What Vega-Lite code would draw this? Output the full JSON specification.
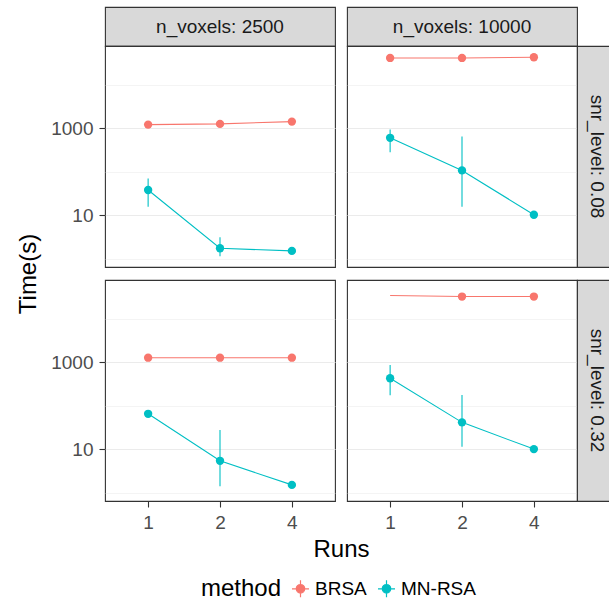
{
  "$schema": "https://vega.github.io/schema/vega-lite/v6.json",
  "padding": {"left": 16, "top": 6, "right": 0, "bottom": 0},
  "autosize": {"type": "pad"},
  "background": "white",
  "datasets": {
    "runs": [
      {"n_voxels": 2500, "snr_level": 0.08, "runs": 1, "method": "BRSA", "time": 1215, "lo": null, "hi": null},
      {"n_voxels": 2500, "snr_level": 0.08, "runs": 2, "method": "BRSA", "time": 1260, "lo": null, "hi": null},
      {"n_voxels": 2500, "snr_level": 0.08, "runs": 4, "method": "BRSA", "time": 1425, "lo": null, "hi": null},
      {"n_voxels": 2500, "snr_level": 0.08, "runs": 1, "method": "MN-RSA", "time": 37.8, "lo": 15.5, "hi": 70},
      {"n_voxels": 2500, "snr_level": 0.08, "runs": 2, "method": "MN-RSA", "time": 1.72, "lo": 1.13, "hi": 3.08},
      {"n_voxels": 2500, "snr_level": 0.08, "runs": 4, "method": "MN-RSA", "time": 1.5, "lo": null, "hi": null},
      {"n_voxels": 10000, "snr_level": 0.08, "runs": 1, "method": "BRSA", "time": 41700, "lo": null, "hi": null},
      {"n_voxels": 10000, "snr_level": 0.08, "runs": 2, "method": "BRSA", "time": 41700, "lo": null, "hi": null},
      {"n_voxels": 10000, "snr_level": 0.08, "runs": 4, "method": "BRSA", "time": 43100, "lo": null, "hi": null},
      {"n_voxels": 10000, "snr_level": 0.08, "runs": 1, "method": "MN-RSA", "time": 603, "lo": 282, "hi": 933},
      {"n_voxels": 10000, "snr_level": 0.08, "runs": 2, "method": "MN-RSA", "time": 107, "lo": 15.5, "hi": 645},
      {"n_voxels": 10000, "snr_level": 0.08, "runs": 4, "method": "MN-RSA", "time": 10.2, "lo": null, "hi": null},
      {"n_voxels": 2500, "snr_level": 0.32, "runs": 1, "method": "BRSA", "time": 1275, "lo": null, "hi": null},
      {"n_voxels": 2500, "snr_level": 0.32, "runs": 2, "method": "BRSA", "time": 1275, "lo": null, "hi": null},
      {"n_voxels": 2500, "snr_level": 0.32, "runs": 4, "method": "BRSA", "time": 1275, "lo": null, "hi": null},
      {"n_voxels": 2500, "snr_level": 0.32, "runs": 1, "method": "MN-RSA", "time": 65, "lo": null, "hi": null},
      {"n_voxels": 2500, "snr_level": 0.32, "runs": 2, "method": "MN-RSA", "time": 5.37, "lo": 1.39, "hi": 27.4},
      {"n_voxels": 2500, "snr_level": 0.32, "runs": 4, "method": "MN-RSA", "time": 1.5, "lo": null, "hi": null},
      {"n_voxels": 10000, "snr_level": 0.32, "runs": 1, "method": "BRSA", "time": 34400, "lo": null, "hi": null},
      {"n_voxels": 10000, "snr_level": 0.32, "runs": 2, "method": "BRSA", "time": 32600, "lo": null, "hi": null},
      {"n_voxels": 10000, "snr_level": 0.32, "runs": 4, "method": "BRSA", "time": 32600, "lo": null, "hi": null},
      {"n_voxels": 10000, "snr_level": 0.32, "runs": 1, "method": "MN-RSA", "time": 428, "lo": 173, "hi": 866},
      {"n_voxels": 10000, "snr_level": 0.32, "runs": 2, "method": "MN-RSA", "time": 41.3, "lo": 11.3, "hi": 176},
      {"n_voxels": 10000, "snr_level": 0.32, "runs": 4, "method": "MN-RSA", "time": 10, "lo": null, "hi": null}
    ]
  },
  "columns": 4,
  "spacing": 0,
  "bounds": "flush",
  "align": "each",
  "concat": [
    {"width": 230, "height": 39, "data": {"values": [{"label": "n_voxels: 2500"}]}, "mark": {"type": "text", "fontSize": 19, "color": "#1A1A1A", "align": "center", "baseline": "middle"}, "encoding": {"text": {"field": "label", "type": "nominal"}}, "view": {"fill": "#D9D9D9", "stroke": "#333333", "strokeWidth": 1.1}},
    {"width": 12, "height": 13, "data": {"values": [{"b": 0}]}, "mark": {"type": "text", "text": ""}, "encoding": {}, "view": {"stroke": null, "fill": null}},
    {"width": 230, "height": 39, "data": {"values": [{"label": "n_voxels: 10000"}]}, "mark": {"type": "text", "fontSize": 19, "color": "#1A1A1A", "align": "center", "baseline": "middle"}, "encoding": {"text": {"field": "label", "type": "nominal"}}, "view": {"fill": "#D9D9D9", "stroke": "#333333", "strokeWidth": 1.1}},
    {"width": 12, "height": 13, "data": {"values": [{"b": 0}]}, "mark": {"type": "text", "text": ""}, "encoding": {}, "view": {"stroke": null, "fill": null}},

    {
      "width": 230, "height": 221,
      "data": {"name": "runs"},
      "transform": [{"filter": "datum.n_voxels == 2500 && datum.snr_level == 0.08"}],
      "encoding": {
        "x": {"field": "runs", "type": "ordinal", "scale": {"type": "point", "padding": 0.6, "domain": [1, 2, 4]}, "axis": {"labels": false, "ticks": false, "title": null, "gridWidth": 1.1}},
        "y": {"field": "time", "type": "quantitative", "scale": {"type": "log", "domain": [0.638, 78500], "nice": false},
          "axis": {"values": [1, 10, 100, 1000, 10000], "title": "Time(s)", "titleY": 227.5, "titlePadding": 10,
            "labelExpr": "datum.value == 10 || datum.value == 1000 ? format(datum.value, 'd') : ''",
            "tickOpacity": {"condition": {"test": "datum.value == 10 || datum.value == 1000", "value": 1}, "value": 0},
            "gridWidth": {"condition": {"test": "datum.value == 10 || datum.value == 1000", "value": 1.1}, "value": 0.55}}},
        "color": {"field": "method", "type": "nominal", "scale": {"domain": ["BRSA", "MN-RSA"], "range": ["#F8766D", "#00BFC4"]}, "title": "method"}
      },
      "layer": [
        {"mark": {"type": "rule", "strokeWidth": 1.1}, "encoding": {"y": {"field": "lo", "type": "quantitative"}, "y2": {"field": "hi"}}},
        {"mark": {"type": "line", "strokeWidth": 1.1}, "encoding": {}},
        {"mark": {"type": "point", "filled": true, "size": 70, "opacity": 1}, "encoding": {}}
      ]
    },
    {"width": 12, "height": 13, "data": {"values": [{"b": 0}]}, "mark": {"type": "text", "text": ""}, "encoding": {}, "view": {"stroke": null, "fill": null}},
    {
      "width": 230, "height": 221,
      "data": {"name": "runs"},
      "transform": [{"filter": "datum.n_voxels == 10000 && datum.snr_level == 0.08"}],
      "encoding": {
        "x": {"field": "runs", "type": "ordinal", "scale": {"type": "point", "padding": 0.6, "domain": [1, 2, 4]}, "axis": {"labels": false, "ticks": false, "title": null, "gridWidth": 1.1}},
        "y": {"field": "time", "type": "quantitative", "scale": {"type": "log", "domain": [0.638, 78500], "nice": false},
          "axis": {"values": [1, 10, 100, 1000, 10000], "title": null, "labels": false, "ticks": false,
            "gridWidth": {"condition": {"test": "datum.value == 10 || datum.value == 1000", "value": 1.1}, "value": 0.55}}},
        "color": {"field": "method", "type": "nominal", "scale": {"domain": ["BRSA", "MN-RSA"], "range": ["#F8766D", "#00BFC4"]}, "title": "method"}
      },
      "layer": [
        {"mark": {"type": "rule", "strokeWidth": 1.1}, "encoding": {"y": {"field": "lo", "type": "quantitative"}, "y2": {"field": "hi"}}},
        {"mark": {"type": "line", "strokeWidth": 1.1}, "encoding": {}},
        {"mark": {"type": "point", "filled": true, "size": 70, "opacity": 1}, "encoding": {}}
      ]
    },
    {"width": 39, "height": 221, "data": {"values": [{"label": "snr_level: 0.08"}]}, "mark": {"type": "text", "fontSize": 19, "color": "#1A1A1A", "align": "center", "baseline": "middle", "angle": 90}, "encoding": {"text": {"field": "label", "type": "nominal"}}, "view": {"fill": "#D9D9D9", "stroke": "#333333", "strokeWidth": 1.1}},

    {"width": 12, "height": 13, "data": {"values": [{"b": 0}]}, "mark": {"type": "text", "text": ""}, "encoding": {}, "view": {"stroke": null, "fill": null}},
    {"width": 12, "height": 13, "data": {"values": [{"b": 0}]}, "mark": {"type": "text", "text": ""}, "encoding": {}, "view": {"stroke": null, "fill": null}},
    {"width": 12, "height": 13, "data": {"values": [{"b": 0}]}, "mark": {"type": "text", "text": ""}, "encoding": {}, "view": {"stroke": null, "fill": null}},
    {"width": 12, "height": 13, "data": {"values": [{"b": 0}]}, "mark": {"type": "text", "text": ""}, "encoding": {}, "view": {"stroke": null, "fill": null}},

    {
      "width": 230, "height": 221,
      "data": {"name": "runs"},
      "transform": [{"filter": "datum.n_voxels == 2500 && datum.snr_level == 0.32"}],
      "encoding": {
        "x": {"field": "runs", "type": "ordinal", "scale": {"type": "point", "padding": 0.6, "domain": [1, 2, 4]}, "axis": {"labelAngle": 0, "title": "Runs", "titleX": 236, "titlePadding": 5, "gridWidth": 1.1}},
        "y": {"field": "time", "type": "quantitative", "scale": {"type": "log", "domain": [0.638, 78500], "nice": false},
          "axis": {"values": [1, 10, 100, 1000, 10000], "title": null,
            "labelExpr": "datum.value == 10 || datum.value == 1000 ? format(datum.value, 'd') : ''",
            "tickOpacity": {"condition": {"test": "datum.value == 10 || datum.value == 1000", "value": 1}, "value": 0},
            "gridWidth": {"condition": {"test": "datum.value == 10 || datum.value == 1000", "value": 1.1}, "value": 0.55}}},
        "color": {"field": "method", "type": "nominal", "scale": {"domain": ["BRSA", "MN-RSA"], "range": ["#F8766D", "#00BFC4"]}, "title": "method"}
      },
      "layer": [
        {"mark": {"type": "rule", "strokeWidth": 1.1}, "encoding": {"y": {"field": "lo", "type": "quantitative"}, "y2": {"field": "hi"}}},
        {"mark": {"type": "line", "strokeWidth": 1.1}, "encoding": {}},
        {"mark": {"type": "point", "filled": true, "size": 70, "opacity": 1}, "encoding": {}}
      ]
    },
    {"width": 12, "height": 13, "data": {"values": [{"b": 0}]}, "mark": {"type": "text", "text": ""}, "encoding": {}, "view": {"stroke": null, "fill": null}},
    {
      "width": 230, "height": 221,
      "data": {"name": "runs"},
      "transform": [{"filter": "datum.n_voxels == 10000 && datum.snr_level == 0.32"}],
      "encoding": {
        "x": {"field": "runs", "type": "ordinal", "scale": {"type": "point", "padding": 0.6, "domain": [1, 2, 4]}, "axis": {"labelAngle": 0, "title": null, "gridWidth": 1.1}},
        "y": {"field": "time", "type": "quantitative", "scale": {"type": "log", "domain": [0.638, 78500], "nice": false},
          "axis": {"values": [1, 10, 100, 1000, 10000], "title": null, "labels": false, "ticks": false,
            "gridWidth": {"condition": {"test": "datum.value == 10 || datum.value == 1000", "value": 1.1}, "value": 0.55}}},
        "color": {"field": "method", "type": "nominal", "scale": {"domain": ["BRSA", "MN-RSA"], "range": ["#F8766D", "#00BFC4"]}, "title": "method"}
      },
      "layer": [
        {"mark": {"type": "rule", "strokeWidth": 1.1}, "encoding": {"y": {"field": "lo", "type": "quantitative"}, "y2": {"field": "hi"}}},
        {"mark": {"type": "line", "strokeWidth": 1.1}, "encoding": {}},
        {"transform": [{"filter": "!(datum.method == 'BRSA' && datum.runs == 1)"}], "mark": {"type": "point", "filled": true, "size": 70, "opacity": 1}, "encoding": {}}
      ]
    },
    {"width": 39, "height": 221, "data": {"values": [{"label": "snr_level: 0.32"}]}, "mark": {"type": "text", "fontSize": 19, "color": "#1A1A1A", "align": "center", "baseline": "middle", "angle": 90}, "encoding": {"text": {"field": "label", "type": "nominal"}}, "view": {"fill": "#D9D9D9", "stroke": "#333333", "strokeWidth": 1.1}}
  ],
  "config": {
    "font": "Liberation Sans",
    "view": {"stroke": "#333333", "strokeWidth": 1.1},
    "axis": {"domain": false, "gridColor": "#EBEBEB", "tickColor": "#333333", "tickSize": 6, "tickWidth": 1.1, "labelFontSize": 19, "labelColor": "#4D4D4D", "labelPadding": 6, "titleFontSize": 24, "titleFontWeight": "normal", "titleColor": "#000000"},
    "legend": {
      "orient": "none", "legendX": 96, "legendY": 572, "direction": "horizontal",
      "titleOrient": "left", "titleFontSize": 24, "titleFontWeight": "normal", "titleColor": "#000000", "titlePadding": 9,
      "labelFontSize": 19, "labelColor": "#000000", "labelOffset": 5, "columnPadding": 8,
      "labelExpr": "replace(datum.label, '-', '\u2212')",
      "symbolType": "M-1,0L1,0M0,-1L0,1M-0.5,0A0.5,0.5 0 1,0 0.5,0A0.5,0.5 0 1,0 -0.5,0Z",
      "symbolSize": 289, "symbolStrokeWidth": 1.2
    }
  }
}
